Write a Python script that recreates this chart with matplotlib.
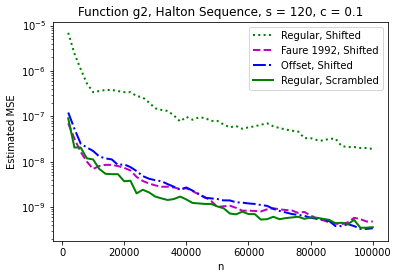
import numpy as np
import matplotlib
matplotlib.use("Agg")
import matplotlib.pyplot as plt

# tamaños de muestra
n = np.arange(2000, 100001, 2000)

# MSE estimado
regular_shifted = [6.9e-6, 2.4e-6, 1.1e-6, 5.3e-7, 3.4e-7, 3.6e-7, 3.8e-7, 3.8e-7, 3.6e-7, 3.4e-7,
                   3.4e-7, 2.8e-7, 2.6e-7, 2.0e-7, 1.5e-7, 1.38e-7, 1.31e-7, 1.04e-7, 7.7e-8, 9.7e-8,
                   8.4e-8, 9.4e-8, 9.2e-8, 7.9e-8, 7.9e-8, 6.6e-8, 5.7e-8, 6.1e-8, 5.3e-8, 5.7e-8,
                   6.0e-8, 6.5e-8, 7.0e-8, 6.0e-8, 5.5e-8, 5.1e-8, 4.8e-8, 4.6e-8, 3.3e-8, 3.3e-8,
                   3.0e-8, 2.9e-8, 3.2e-8, 3.2e-8, 2.2e-8, 2.1e-8, 2.1e-8, 2.0e-8, 2.0e-8, 1.9e-8]

faure_shifted = [7.0e-8, 3.2e-8, 1.64e-8, 1.0e-8, 6.9e-9, 8.0e-9, 8.5e-9, 8.5e-9, 8.0e-9, 7.3e-9,
                 6.4e-9, 4.6e-9, 3.75e-9, 3.3e-9, 3.0e-9, 2.8e-9, 2.8e-9, 2.7e-9, 2.5e-9, 2.6e-9,
                 2.25e-9, 1.9e-9, 1.65e-9, 1.36e-9, 1.0e-9, 1.04e-9, 1.07e-9, 9.6e-10, 8.3e-10, 8.3e-10,
                 8.2e-10, 8.0e-10, 8.9e-10, 9.4e-10, 8.9e-10, 8.6e-10, 8.4e-10, 7.4e-10, 7.8e-10, 6.5e-10,
                 5.6e-10, 5.1e-10, 4.6e-10, 4.3e-10, 4.2e-10, 4.6e-10, 5.8e-10, 5.4e-10, 4.8e-10, 4.8e-10]

offset_shifted = [1.21e-7, 5.3e-8, 2.5e-8, 2.05e-8, 1.72e-8, 1.3e-8, 1.18e-8, 1.12e-8, 8.5e-9, 8.7e-9,
                  7.6e-9, 6.2e-9, 4.8e-9, 4.2e-9, 3.9e-9, 3.7e-9, 3.2e-9, 2.8e-9, 2.4e-9, 2.7e-9,
                  2.3e-9, 1.95e-9, 1.6e-9, 1.55e-9, 1.5e-9, 1.4e-9, 1.4e-9, 1.27e-9, 1.25e-9, 1.2e-9,
                  1.17e-9, 1.11e-9, 1.06e-9, 9.1e-10, 8.2e-10, 7.6e-10, 7.0e-10, 6.7e-10, 6.4e-10, 5.8e-10,
                  5.5e-10, 5.3e-10, 4.9e-10, 3.8e-10, 3.8e-10, 4.2e-10, 3.8e-10, 3.3e-10, 3.3e-10, 3.4e-10]

regular_scrambled = [9.0e-8, 2.05e-8, 2.05e-8, 1.18e-8, 1.12e-8, 6.9e-9, 5.4e-9, 5.3e-9, 5.3e-9, 3.7e-9,
                     3.8e-9, 2.0e-9, 2.4e-9, 2.1e-9, 1.7e-9, 1.55e-9, 1.43e-9, 1.5e-9, 1.7e-9, 1.47e-9,
                     1.23e-9, 1.2e-9, 1.17e-9, 1.17e-9, 1.03e-9, 9.4e-10, 7.2e-10, 6.9e-10, 7.9e-10, 7.0e-10,
                     7.0e-10, 5.3e-10, 5.4e-10, 6.1e-10, 5.4e-10, 5.7e-10, 5.9e-10, 6.1e-10, 5.5e-10, 5.9e-10,
                     5.8e-10, 5.5e-10, 5.2e-10, 4.4e-10, 4.5e-10, 4.2e-10, 5.2e-10, 3.5e-10, 3.5e-10, 3.6e-10]

fig = plt.figure(figsize=(398 / 72, 278 / 72), dpi=72)
ax = fig.add_axes([53 / 398, 37.3 / 278, 335 / 398, 219 / 278])

ax.plot(n, regular_shifted, 'g:', lw=2, label='Regular, Shifted')
ax.plot(n, faure_shifted, 'm--', lw=2, label='Faure 1992, Shifted')
ax.plot(n, offset_shifted, 'b-.', lw=2, label='Offset, Shifted')
ax.plot(n, regular_scrambled, 'g-', lw=2, label='Regular, Scrambled')

ax.set_yscale('log')
ax.set_ylim(10 ** -9.742, 10 ** -4.916)
ax.set_xticks([0, 20000, 40000, 60000, 80000, 100000])
ax.set_xlabel('n')
ax.set_ylabel('Estimated MSE')
ax.set_title('Function g2, Halton Sequence, s = 120, c = 0.1', fontsize=12)
ax.legend(loc='upper right')

fig.savefig('out.png', dpi=72)
